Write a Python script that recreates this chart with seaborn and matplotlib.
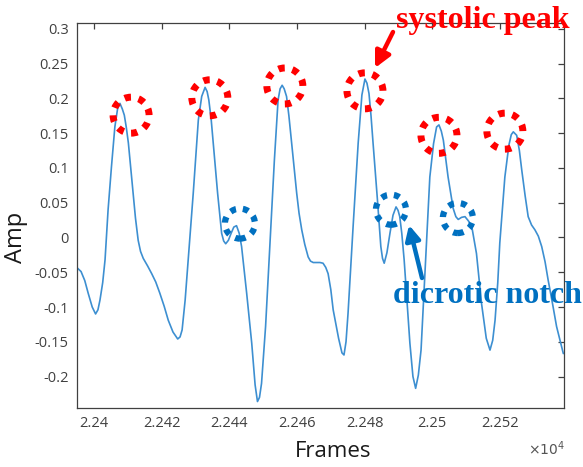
import matplotlib
matplotlib.use("Agg")
import matplotlib.pyplot as plt
from matplotlib.patches import Ellipse
import seaborn as sns
import pandas as pd

# ---- data ----
frames = [22394.8, 22396.1, 22397.2, 22398.2, 22399.4, 22400.4, 22401.1, 22401.7, 22402.5, 22403.2,
          22404.1, 22405.1, 22406.1, 22406.9, 22407.6, 22408.3, 22408.9, 22409.5, 22410.1, 22410.8,
          22411.5, 22412.2, 22413.0, 22413.7, 22414.5, 22415.8, 22417.0, 22418.2, 22419.4, 22420.7,
          22421.9, 22423.3, 22424.7, 22425.4, 22426.0, 22426.9, 22427.8, 22429.3, 22430.8, 22431.8,
          22432.8, 22433.4, 22433.9, 22434.6, 22435.2, 22436.5, 22437.7, 22438.3, 22438.9, 22439.7,
          22440.5, 22441.3, 22442.1, 22442.9, 22443.6, 22445.1, 22446.6, 22447.6, 22448.3, 22448.9,
          22449.5, 22450.7, 22452.0, 22453.3, 22454.4, 22455.0, 22455.6, 22456.2, 22456.9, 22457.6,
          22458.4, 22459.9, 22460.6, 22461.4, 22462.3, 22463.3, 22464.0, 22464.8, 22466.8, 22467.7,
          22468.5, 22469.2, 22470.0, 22470.7, 22472.3, 22473.3, 22473.9, 22474.5, 22475.1, 22475.8,
          22476.6, 22478.1, 22479.2, 22480.1, 22480.7, 22481.3, 22481.9, 22482.5, 22483.8, 22484.8,
          22485.3, 22485.8, 22486.6, 22487.5, 22488.4, 22489.3, 22489.9, 22490.4, 22491.0, 22491.7,
          22493.4, 22494.3, 22495.1, 22495.9, 22496.7, 22497.8, 22499.3, 22500.4, 22501.3, 22502.0,
          22502.7, 22503.3, 22504.7, 22506.2, 22507.0, 22507.7, 22508.7, 22509.7, 22510.7, 22511.7,
          22513.1, 22514.6, 22516.0, 22517.1, 22517.9, 22518.6, 22519.4, 22520.0, 22521.5, 22522.7,
          22523.4, 22524.0, 22525.0, 22525.8, 22526.5, 22527.5, 22528.4, 22529.4, 22530.4, 22531.4,
          22532.4, 22533.4, 22534.3, 22535.6, 22536.8, 22538.8]
amp = [-0.043, -0.049, -0.062, -0.080, -0.100, -0.110, -0.104, -0.090, -0.065, -0.032,
       0.040, 0.102, 0.159, 0.185, 0.193, 0.185, 0.176, 0.158, 0.136, 0.100,
       0.064, 0.028, -0.004, -0.020, -0.030, -0.041, -0.052, -0.064, -0.080, -0.099,
       -0.119, -0.136, -0.146, -0.143, -0.133, -0.090, -0.032, 0.064, 0.169, 0.203,
       0.216, 0.210, 0.198, 0.170, 0.136, 0.064, 0.006, -0.005, -0.009, -0.004,
       0.006, 0.015, 0.017, 0.006, -0.013, -0.080, -0.152, -0.212, -0.236, -0.230,
       -0.210, -0.128, -0.008, 0.111, 0.198, 0.214, 0.219, 0.214, 0.203, 0.175,
       0.136, 0.064, 0.035, 0.011, -0.010, -0.028, -0.034, -0.036, -0.036, -0.037,
       -0.043, -0.052, -0.075, -0.104, -0.145, -0.166, -0.169, -0.150, -0.109, -0.050,
       0.016, 0.136, 0.205, 0.228, 0.222, 0.207, 0.175, 0.136, 0.054, -0.013,
       -0.030, -0.037, -0.022, 0.006, 0.032, 0.044, 0.039, 0.030, 0.006, -0.032,
       -0.152, -0.200, -0.217, -0.198, -0.162, -0.056, 0.087, 0.135, 0.159, 0.162,
       0.153, 0.140, 0.087, 0.042, 0.030, 0.026, 0.029, 0.030, 0.024, 0.016,
       -0.023, -0.095, -0.145, -0.162, -0.148, -0.119, -0.065, -0.008, 0.087, 0.133,
       0.148, 0.152, 0.147, 0.125, 0.097, 0.060, 0.030, 0.018, 0.011, 0.002,
       -0.013, -0.035, -0.061, -0.095, -0.128, -0.167]

peak_frames = [22410.9, 22434.2, 22456.4, 22480.1, 22502.0, 22521.5]
peak_amps = [0.176, 0.201, 0.218, 0.211, 0.147, 0.153]
notch_frames = [22443.1, 22487.8, 22507.6]
notch_amps = [0.020, 0.040, 0.028]

x_ticks = [22400, 22420, 22440, 22460, 22480, 22500, 22520]
x_tick_labels = ["2.24", "2.242", "2.244", "2.246", "2.248", "2.25", "2.252"]
y_ticks = [0.3, 0.25, 0.2, 0.15, 0.1, 0.05, 0, -0.05, -0.1, -0.15, -0.2]
y_tick_labels = ["0.3", "0.25", "0.2", "0.15", "0.1", "0.05", "0", "-0.05", "-0.1", "-0.15", "-0.2"]

# ---- style ----
sns.set_theme(style="white")
plt.rcParams["font.family"] = ["Open Sans", "DejaVu Sans"]
plt.rcParams["axes.unicode_minus"] = False
plt.rcParams["lines.scale_dashes"] = False

W, H, DPI = 583, 467, 100
fig = plt.figure(figsize=(W / DPI, H / DPI), dpi=DPI)
ax_l, ax_r, ax_t, ax_b = 77, 564, 23, 408
ax = fig.add_axes([ax_l / W, 1 - ax_b / H, (ax_r - ax_l) / W, (ax_b - ax_t) / H])

df = pd.DataFrame({"Frames": frames, "Amp": amp})
sns.lineplot(data=df, x="Frames", y="Amp", ax=ax, color="#3d8fd1", linewidth=1.2, sort=False)

xlim = (22394.9, 22539.0)
ylim = (-0.2453, 0.3086)
ax.set_xlim(*xlim)
ax.set_ylim(*ylim)

ax.set_xticks(x_ticks, labels=x_tick_labels)
ax.set_yticks(y_ticks, labels=y_tick_labels)
ax.tick_params(direction="in", length=4, width=0.9, top=True, right=True,
               labelsize=10.5, labelcolor="#404040", color="#404040", pad=6)
for s in ax.spines.values():
    s.set_color("#404040")
    s.set_linewidth(0.9)

ax.set_xlabel("Frames", fontsize=16, color="#1a1a1a")
ax.set_ylabel("Amp", fontsize=17, color="#1a1a1a")
ax.xaxis.set_label_coords(0.526, -0.085)
ax.yaxis.set_label_coords(-0.10, 0.444)

# pixel-to-data scales for round annotation circles
px_per_x = (ax_r - ax_l) / (xlim[1] - xlim[0])
px_per_y = (ax_b - ax_t) / (ylim[1] - ylim[0])

r_red = 18
for fx, fy in zip(peak_frames, peak_amps):
    e = Ellipse((fx, fy), 2 * r_red / px_per_x, 2 * r_red / px_per_y, fill=False,
                edgecolor="#ff0000", linewidth=5, linestyle=(0, (4.6, 5.6)), zorder=4)
    ax.add_patch(e)

r_blue = 15
for fx, fy in zip(notch_frames, notch_amps):
    e = Ellipse((fx, fy), 2 * r_blue / px_per_x, 2 * r_blue / px_per_y, fill=False,
                edgecolor="#0070C0", linewidth=4.5, linestyle=(0, (4.2, 5.0)), zorder=4)
    ax.add_patch(e)

# arrows (figure pixel coordinates, origin bottom-left)
ax.annotate("", xy=(375, H - 68), xytext=(393, H - 32), xycoords="figure pixels",
            textcoords="figure pixels",
            arrowprops=dict(arrowstyle="-|>", color="#ff0000", lw=3.2, mutation_scale=24,
                            shrinkA=0, shrinkB=0))
ax.annotate("", xy=(409, H - 225), xytext=(422, H - 278), xycoords="figure pixels",
            textcoords="figure pixels",
            arrowprops=dict(arrowstyle="-|>", color="#0070C0", lw=3.2, mutation_scale=22,
                            shrinkA=0, shrinkB=0))

serif = ["Liberation Serif", "DejaVu Serif"]
fig.text(396 / W, 1 - 28 / H, "systolic peak", ha="left", va="baseline", fontsize=23,
         fontweight="bold", family=serif, color="#ff0000")
fig.text(393 / W, 1 - 303 / H, "dicrotic notch", ha="left", va="baseline", fontsize=23,
         fontweight="bold", family=serif, color="#0070C0")
fig.text(565 / W, 1 - 455 / H, r"$\times10^{4}$", ha="right", va="baseline", fontsize=10,
         color="#555555")

fig.savefig("out.png", dpi=DPI)
